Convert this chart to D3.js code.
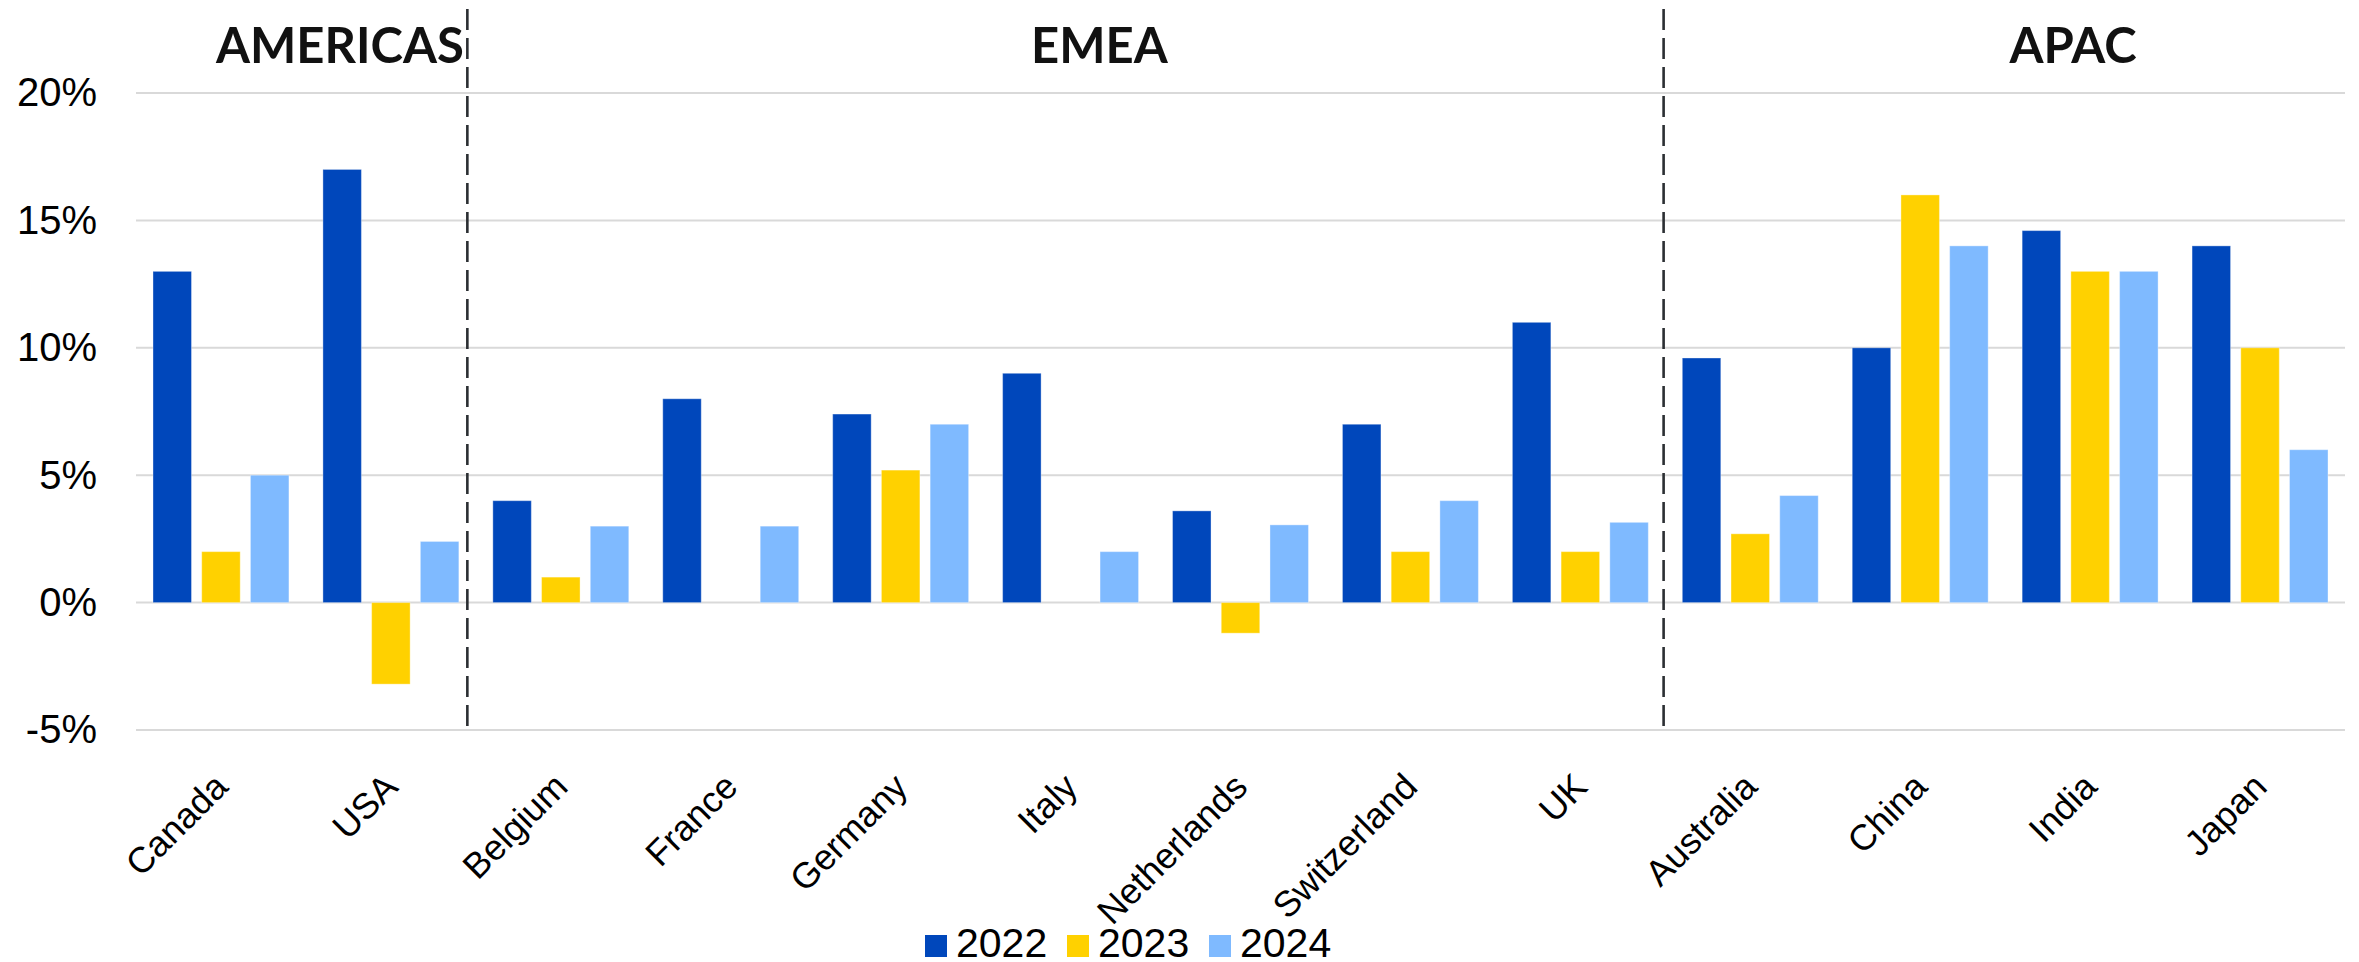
<!DOCTYPE html>
<html>
<head>
<meta charset="utf-8">
<script src="https://cdn.jsdelivr.net/npm/d3@7"></script>
<style>
  body { margin: 0; background: #fff; }
  svg text { font-family: "Liberation Sans", Arial, sans-serif; fill: #000; }
</style>
</head>
<body>
<svg id="chart" width="2359" height="962"></svg>
<script>
// Annual growth by country, grouped by region
const countries = ["Canada", "USA", "Belgium", "France", "Germany", "Italy", "Netherlands",
                   "Switzerland", "UK", "Australia", "China", "India", "Japan"];
const years = ["2022", "2023", "2024"];
const growth2022 = [13, 17, 4, 8, 7.4, 9, 3.6, 7, 11, 9.6, 10, 14.6, 14];
const growth2023 = [2, -3.2, 1, null, 5.2, null, -1.2, 2, 2, 2.7, 16, 13, 10];
const growth2024 = [5, 2.4, 3, 3, 7, 2, 3.05, 4, 3.15, 4.2, 14, 13, 6];
const yTicks = [-5, 0, 5, 10, 15, 20];
const regions = ["AMERICAS", "EMEA", "APAC"];
const seriesColors = ["#0047BB", "#FFD100", "#7FBAFF"];

// Layout
const W = 2359, H = 962;
const plot = { left: 136, right: 2345, top: 93, bottom: 730 };
// region headings and divider lines, measured in category slots from the left edge
const regionLabelSlot = [1.2, 5.67, 11.4];
const dividerSlot = [1.95, 8.99];

const series = [growth2022, growth2023, growth2024];

const svg = d3.select("#chart");

const x = d3.scaleBand()
  .domain(countries)
  .range([plot.left, plot.right])
  .paddingInner(0.2)
  .paddingOuter(0.1);

const xInner = d3.scaleBand()
  .domain(years)
  .range([0, x.bandwidth()])
  .paddingInner(0.21);

const y = d3.scaleLinear()
  .domain([-5, 20])
  .range([plot.bottom, plot.top]);

const slot = d3.scaleLinear()
  .domain([0, countries.length])
  .range([plot.left, plot.right]);

// horizontal gridlines
svg.append("g")
  .selectAll("line")
  .data(yTicks)
  .join("line")
  .attr("x1", plot.left)
  .attr("x2", plot.right)
  .attr("y1", d => y(d))
  .attr("y2", d => y(d))
  .attr("stroke", "#d9d9d9")
  .attr("stroke-width", 2);

// bars
const groups = svg.append("g")
  .selectAll("g")
  .data(countries)
  .join("g")
  .attr("transform", c => `translate(${x(c)},0)`);

groups.selectAll("rect")
  .data((c, i) => years.map((yr, s) => ({ year: yr, s, v: series[s][i] })).filter(d => d.v != null))
  .join("rect")
  .attr("x", d => xInner(d.year))
  .attr("width", xInner.bandwidth())
  .attr("y", d => y(Math.max(0, d.v)))
  .attr("height", d => Math.abs(y(d.v) - y(0)))
  .attr("fill", d => seriesColors[d.s])
  .attr("stroke", "#ffffff")
  .attr("stroke-opacity", 0.35)
  .attr("stroke-width", 1);

// y axis
const yAxis = svg.append("g")
  .attr("transform", `translate(${plot.left},0)`)
  .call(d3.axisLeft(y).tickValues(yTicks).tickSize(0).tickPadding(39).tickFormat(d => d + "%"));
yAxis.select(".domain").remove();
yAxis.selectAll("text")
  .attr("font-size", 40)
  .attr("font-family", "Liberation Sans, Arial, sans-serif")
  .attr("fill", "#000");

// x axis with slanted country names
const xAxis = svg.append("g")
  .attr("transform", `translate(0,${plot.bottom})`)
  .call(d3.axisBottom(x).tickSize(0).tickPadding(0));
xAxis.select(".domain").remove();
xAxis.selectAll("text")
  .attr("y", 0)
  .attr("dy", "0.35em")
  .attr("text-anchor", "end")
  .attr("transform", "translate(0,50) rotate(-45)")
  .attr("font-size", 36)
  .attr("font-family", "Liberation Sans, Arial, sans-serif")
  .attr("fill", "#000");

// region dividers
svg.append("g")
  .selectAll("line")
  .data(dividerSlot)
  .join("line")
  .attr("x1", d => slot(d))
  .attr("x2", d => slot(d))
  .attr("y1", 9)
  .attr("y2", 733)
  .attr("stroke", "#2b2f33")
  .attr("stroke-width", 2.6)
  .attr("stroke-dasharray", "21,8");

// region headings
svg.append("g")
  .selectAll("text")
  .data(regions)
  .join("text")
  .attr("x", (d, i) => slot(regionLabelSlot[i]))
  .attr("y", 63)
  .attr("text-anchor", "middle")
  .style("font-family", "Lato, 'Open Sans', sans-serif")
  .style("font-weight", 700)
  .style("font-size", "49px")
  .style("fill", "#111")
  .text(d => d);

// legend
const legend = svg.append("g").attr("transform", "translate(925,935)");
const item = legend.selectAll("g")
  .data(years)
  .join("g")
  .attr("transform", (d, i) => `translate(${i * 142},0)`);
item.append("rect")
  .attr("width", 22)
  .attr("height", 22)
  .attr("fill", (d, i) => seriesColors[i]);
item.append("text")
  .attr("x", 31)
  .attr("y", 22)
  .attr("font-size", 41)
  .text(d => d);
</script>
</body>
</html>
